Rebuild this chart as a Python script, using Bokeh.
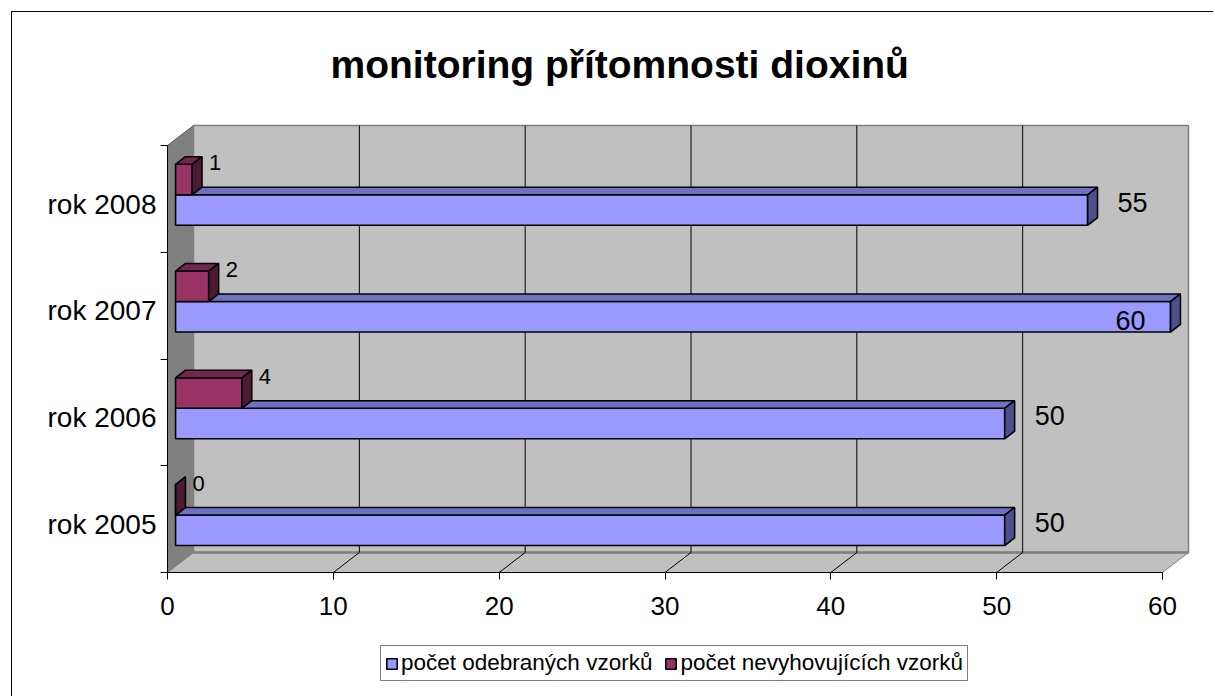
import numpy as np
from bokeh.plotting import figure
from bokeh.models import Range1d, FixedTicker, ColumnDataSource, Legend, LegendItem
from bokeh.embed import file_html
from bokeh.resources import INLINE
from bokeh.core.properties import value

# ---------------- data ----------------
categories = ["rok 2005", "rok 2006", "rok 2007", "rok 2008"]
odebrane = [50, 50, 60, 55]          # počet odebraných vzorků
nevyhovujici = [0, 4, 2, 1]          # počet nevyhovujících vzorků
series_labels = ["počet odebraných vzorků", "počet nevyhovujících vzorků"]
x_ticks = [0, 10, 20, 30, 40, 50, 60]
title_text = "monitoring přítomnosti dioxinů"

# ---------------- layout constants ----------------
FONT = "Liberation Sans"
W, H = 1213, 696
FRAME_L, FRAME_R = 14, 1190      # frame spans the labels; axes are pinned at x = 0 / y = 0
FRAME_T, FRAME_B = 123, 696
AXIS_X = 167                     # pixel column of the category axis (x = 0)
AXIS_Y = 572                     # pixel row of the value axis (y = 0)
XMAX = float(x_ticks[-1])
NCAT = len(categories)
PX_X = 995.0 / XMAX          # pixels per value unit on the front plane
PX_Y = 427.0 / NCAT          # pixels per category band
x_start = -(AXIS_X - FRAME_L) / PX_X
x_end = (FRAME_R - AXIS_X) / PX_X
y_start = -(FRAME_B - AXIS_Y) / PX_Y
y_end = (AXIS_Y - FRAME_T) / PX_Y

DX = 26.0 / PX_X             # 3-D depth offset (data units)
DY = 20.0 / PX_Y
F0, F1 = 0.31, 0.69          # bar front / back depth fractions
BAR_H = 0.2857
MID = 0.48

BLUE = ("#9999FF", "#7070C0", "#4F4F8F")
PLUM = ("#993366", "#732650", "#4D1A33")

p = figure(width=W, height=H, x_range=Range1d(x_start, x_end), y_range=Range1d(y_start, y_end),
           output_backend="svg", toolbar_location=None,
           min_border_left=FRAME_L, min_border_right=W - FRAME_R,
           min_border_top=FRAME_T, min_border_bottom=0)
p.xgrid.visible = False
p.ygrid.visible = False
p.outline_line_color = None
p.background_fill_color = "white"
p.border_fill_color = None
# outer chart border (left and top edges visible in the reference)
p.styles = {"background": "linear-gradient(#000,#000) 11px 11px / 1px calc(100% - 11px) no-repeat, "
                          "linear-gradient(#000,#000) 11px 11px / calc(100% - 11px) 1px no-repeat, #ffffff"}

# ---------------- 3-D walls ----------------
p.patch([0, DX, DX, 0], [0, DY, NCAT + DY, NCAT], fill_color="#808080",
        line_color="#5a5a5a", line_width=1)
p.patch([0, XMAX, XMAX + DX, DX], [0, 0, DY, DY], fill_color="#C0C0C0",
        line_color="#808080", line_width=1)
p.quad(left=[DX], right=[XMAX + DX], bottom=[DY], top=[NCAT + DY],
       fill_color="#C0C0C0", line_color="#808080", line_width=1.5)
p.line([DX, XMAX + DX], [DY, DY], line_color="#808080", line_width=2.5)

grid_vals = x_ticks[1:-1]
p.multi_line(xs=[[g + DX, g + DX] for g in grid_vals], ys=[[DY, NCAT + DY]] * len(grid_vals),
             line_color="black", line_width=1)
p.multi_line(xs=[[g, g + DX] for g in grid_vals], ys=[[0, DY]] * len(grid_vals),
             line_color="black", line_width=1)


# ---------------- bars ----------------
def bar_sources(vals, y0s, y1s):
    fx, fy, bx, by = F0 * DX, F0 * DY, F1 * DX, F1 * DY
    front = dict(left=[fx] * len(vals), right=[v + fx for v in vals],
                 bottom=[y + fy for y in y0s], top=[y + fy for y in y1s])
    top = dict(xs=[[fx, v + fx, v + bx, bx] for v in vals],
               ys=[[y1 + fy, y1 + fy, y1 + by, y1 + by] for y1 in y1s])
    side = dict(xs=[[v + fx, v + bx, v + bx, v + fx] for v in vals],
                ys=[[y0 + fy, y0 + by, y1 + by, y1 + fy] for y0, y1 in zip(y0s, y1s)])
    return front, top, side


idx = list(range(NCAT))
blue_y0 = [i + MID - BAR_H for i in idx]
blue_y1 = [i + MID for i in idx]
plum_y0 = [i + MID for i in idx]
plum_y1 = [i + MID + BAR_H for i in idx]

renderers = []
for vals, y0s, y1s, cols in [(odebrane, blue_y0, blue_y1, BLUE),
                             (nevyhovujici, plum_y0, plum_y1, PLUM)]:
    fr, tp, sd = bar_sources(vals, y0s, y1s)
    r = p.quad(source=ColumnDataSource(fr), left="left", right="right", bottom="bottom", top="top",
               fill_color=cols[0], line_color="black", line_width=1.6)
    p.patches(source=ColumnDataSource(tp), xs="xs", ys="ys",
              fill_color=cols[1], line_color="black", line_width=1.6)
    p.patches(source=ColumnDataSource(sd), xs="xs", ys="ys",
              fill_color=cols[2], line_color="black", line_width=1.6)
    renderers.append(r)

# ---------------- value labels ----------------
plot_right_px = XMAX * PX_X + 26
b_x, b_y, b_txt, b_align, b_xo, b_yo = [], [], [], [], [], []
for v, y0, y1 in zip(odebrane, blue_y0, blue_y1):
    b_x.append(v)
    b_y.append((y0 + y1) / 2)
    b_txt.append(str(v))
    if v * PX_X + 37 + 30 > plot_right_px:
        b_align.append("right"); b_xo.append(-17); b_yo.append(-3)
    else:
        b_align.append("left"); b_xo.append(38); b_yo.append(-14)
p.text(source=ColumnDataSource(dict(x=b_x, y=b_y, t=b_txt, a=b_align, xo=b_xo, yo=b_yo)),
       x="x", y="y", text="t", text_align="a", x_offset="xo", y_offset="yo",
       text_baseline="middle", text_font=value(FONT), text_font_size="27px", text_color="black")

p.text(x=nevyhovujici, y=[(a + b) / 2 for a, b in zip(plum_y0, plum_y1)],
       text=[str(v) for v in nevyhovujici], x_offset=25, y_offset=-23,
       text_align="left", text_baseline="middle", text_font=value(FONT),
       text_font_size="22px", text_color="black")

# ---------------- axes ----------------
xa = p.xaxis[0]
xa.fixed_location = 0
xa.ticker = FixedTicker(ticks=x_ticks, minor_ticks=[])
xa.bounds = (0, XMAX)
xa.axis_line_color = "black"
xa.axis_line_width = 1
xa.major_tick_in = 0
xa.major_tick_out = 7
xa.major_tick_line_color = "black"
xa.minor_tick_line_color = None
xa.major_label_text_font = FONT
xa.major_label_text_font_size = "26px"
xa.major_label_text_color = "black"
xa.major_label_standoff = 17

ya = p.yaxis[0]
ya.fixed_location = 0
label_pos = [i + 0.45 for i in idx]
ya.ticker = FixedTicker(ticks=label_pos, minor_ticks=list(range(NCAT + 1)))
ya.major_label_overrides = {t: c for t, c in zip(label_pos, categories)}
ya.bounds = (0, NCAT)
ya.axis_line_color = "black"
ya.axis_line_width = 1
ya.major_tick_line_color = None
ya.major_tick_in = 0
ya.major_tick_out = 0
ya.minor_tick_line_color = "black"
ya.minor_tick_in = 0
ya.minor_tick_out = 7
ya.major_label_standoff = 4
ya.major_label_text_font = FONT
ya.major_label_text_font_size = "28px"
ya.major_label_text_color = "black"

# ---------------- title ----------------
p.title.text = title_text
p.title.text_font = FONT
p.title.text_font_size = "39px"
p.title.text_font_style = "bold"
p.title.text_color = "black"
p.title.align = "left"
p.title.offset = 330 - FRAME_L
p.title.standoff = 75

# ---------------- legend ----------------
legend = Legend(items=[LegendItem(label=series_labels[0], renderers=[renderers[0]]),
                       LegendItem(label=series_labels[1], renderers=[renderers[1]])],
                orientation="horizontal", location=(380 - FRAME_L, 15),
                label_text_font=FONT, label_text_font_size="22.5px", label_text_color="black",
                glyph_width=13, glyph_height=13, padding=4, spacing=12, label_standoff=3,
                border_line_color="black", border_line_width=1, background_fill_color="white",
                background_fill_alpha=1.0, margin=0)
p.add_layout(legend)

open("out.html", "w").write(file_html(p, INLINE))
